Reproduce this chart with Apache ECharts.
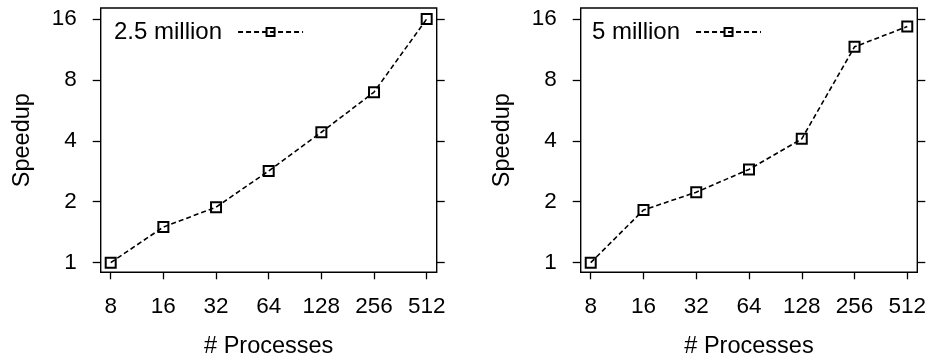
<!DOCTYPE html>
<html>
<head>
<meta charset="utf-8">
<style>
  html, body { margin: 0; padding: 0; background: #fff; }
  #chart { width: 928px; height: 354px; }
</style>
<script src="https://cdn.jsdelivr.net/npm/echarts@6/dist/echarts.min.js"></script>
</head>
<body>
<div id="chart"></div>
<script>
// Process counts (x) and speedup tick marks (y), both on log2 scales
const processes = [8, 16, 32, 64, 128, 256, 512];
const speedupTicks = [1, 2, 4, 8, 16];

// Measured speedup for each problem size
const speedup25M = [1.0, 1.5, 1.88, 2.84, 4.41, 6.96, 16.0];
const speedup5M = [1.0, 1.82, 2.23, 2.89, 4.09, 11.65, 14.67];

const seriesNames = ['2.5 million', '5 million'];
const xTitle = '# Processes';
const yTitle = 'Speedup';

const FONT = '"Liberation Sans", Arial, Helvetica, sans-serif';
const INK = '#000';

// Axis ranges padded a little past the outer ticks (in log2 units)
const xMin = processes[0] * Math.pow(2, -0.19);
const xMax = processes[processes.length - 1] * Math.pow(2, 0.19);
const yMin = speedupTicks[0] * Math.pow(2, -0.158);
const yMax = speedupTicks[speedupTicks.length - 1] * Math.pow(2, 0.18);

const grids = [
  { left: 100.7, top: 8, width: 336, height: 264.3 },
  { left: 580.7, top: 8, width: 336.6, height: 264.3 }
];

function xAxisFor(gridIndex) {
  return {
    type: 'log', logBase: 2, gridIndex,
    min: xMin, max: xMax,
    name: xTitle, nameLocation: 'middle', nameGap: 62,
    nameTextStyle: { fontFamily: FONT, fontSize: 23.5, color: INK },
    axisLine: { show: false },
    axisTick: { show: true, inside: false, length: 7, customValues: processes,
                lineStyle: { color: INK, width: 1.3 } },
    axisLabel: { customValues: processes, margin: 23, fontFamily: FONT, fontSize: 22.5, color: INK },
    splitLine: { show: false }
  };
}

function yAxesFor(gridIndex) {
  const base = {
    type: 'log', logBase: 2, gridIndex,
    min: yMin, max: yMax,
    axisLine: { show: false },
    axisTick: { show: true, inside: false, length: 8, customValues: speedupTicks,
                lineStyle: { color: INK, width: 1.3 } },
    splitLine: { show: false }
  };
  return [
    Object.assign({}, base, {
      position: 'left',
      name: yTitle, nameLocation: 'middle', nameGap: 66, nameRotate: 90,
      nameTextStyle: { fontFamily: FONT, fontSize: 23.5, color: INK },
      axisLabel: { customValues: speedupTicks, margin: 24, fontFamily: FONT, fontSize: 22.5, color: INK }
    }),
    Object.assign({}, base, {
      position: 'right',
      axisLabel: { show: false }
    })
  ];
}

function lineSeries(name, values, gridIndex) {
  return {
    name, type: 'line',
    xAxisIndex: gridIndex, yAxisIndex: gridIndex * 2,
    data: processes.map((p, i) => [p, values[i]]),
    symbol: 'rect', symbolSize: 10,
    itemStyle: { color: 'rgba(0,0,0,0)', borderColor: INK, borderWidth: 2 },
    lineStyle: { color: INK, width: 1.6, type: [5, 3] },
    emphasis: { disabled: true },
    silent: true
  };
}

function legendFor(name, left) {
  return {
    data: [name], left, top: 15, align: 'right',
    itemWidth: 65, itemHeight: 10, selectedMode: false,
    textStyle: { fontFamily: FONT, fontSize: 24, color: INK, padding: [0, 11, 0, 0] }
  };
}

const chart = echarts.init(document.getElementById('chart'), null, { renderer: 'canvas' });
chart.setOption({
  animation: false,
  backgroundColor: '#fff',
  grid: grids.map(g => Object.assign({ show: true, borderColor: INK, borderWidth: 1.4,
                                        backgroundColor: 'transparent',
                                        containLabel: false, outerBoundsMode: 'none' }, g)),
  xAxis: [xAxisFor(0), xAxisFor(1)],
  yAxis: yAxesFor(0).concat(yAxesFor(1)),
  legend: [legendFor(seriesNames[0], 109), legendFor(seriesNames[1], 587)],
  series: [
    lineSeries(seriesNames[0], speedup25M, 0),
    lineSeries(seriesNames[1], speedup5M, 1)
  ]
});
</script>
</body>
</html>
